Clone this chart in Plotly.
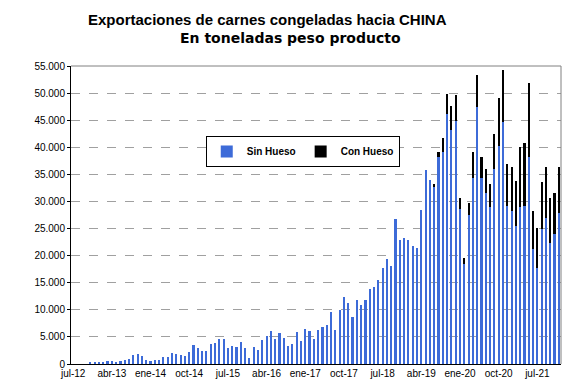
import plotly.graph_objects as go

# ---- data (toneladas peso producto), monthly from jul-12 to dic-21 ----
month_names = ["ene", "feb", "mar", "abr", "may", "jun", "jul", "ago", "sep", "oct", "nov", "dic"]
start_year, start_month = 2012, 7  # jul-12
n_months = 114

sin_hueso = [
    0, 0, 0, 0, 200, 250, 370, 430, 500, 500,
    370, 550, 700, 1000, 1700, 1800, 1550, 700, 600, 700,
    700, 1300, 1350, 2100, 1900, 1700, 1500, 2150, 3450, 2950,
    2350, 2350, 3600, 3800, 4700, 4700, 2960, 3300, 3150, 4100,
    2960, 1050, 3200, 2500, 4500, 5100, 6050, 4550, 5750, 4750,
    3400, 3650, 5900, 4250, 6550, 6000, 4550, 6350, 6800, 7150,
    9600, 6300, 10000, 12350, 11300, 8750, 11900, 10800, 11800, 13900,
    14200, 15550, 17800, 19300, 18000, 26850, 22950, 23300, 22950, 21800,
    21350, 28450, 35850, 34000, 32800, 38150, 39200, 46200, 43100, 44900,
    28600, 18400, 27500, 34300, 47500, 34400, 31500, 29000, 35900, 40300,
    44750, 29200, 28300, 25500, 28900, 29100, 38150, 21200, 17800, 25000,
    27000, 22400, 24000, 27800,
]

con_hueso = [0] * 84 + [
    350, 1050, 2500, 3700, 4600, 4800, 2100, 1200, 2300, 4800,
    5800, 3800, 4500, 4200, 6600, 8800, 9450, 7800, 8000, 8300,
    11100, 11700, 13800, 7000, 7300, 8600, 9400, 8300, 7600, 8500,
]

tick_labels = ["jul-12", "abr-13", "ene-14", "oct-14", "jul-15", "abr-16", "ene-17",
               "oct-17", "jul-18", "abr-19", "ene-20", "oct-20", "jul-21"]

y_ticks = list(range(0, 55001, 5000))

title_text = "Exportaciones de carnes congeladas hacia CHINA"
subtitle_text = "En toneladas peso producto"

# category labels for each month
categories = []
y, m = start_year, start_month
for _ in range(n_months):
    categories.append(f"{month_names[m - 1]}-{str(y)[2:]}")
    m += 1
    if m > 12:
        m = 1
        y += 1

FONT = "Liberation Sans, Arial, sans-serif"
BLUE = "#3d6bd8"

fig = go.Figure()
fig.add_trace(go.Bar(x=categories, y=sin_hueso, name="<b>Sin Hueso</b>",
                     marker=dict(color=BLUE, line=dict(width=0))))
fig.add_trace(go.Bar(x=categories, y=con_hueso, name="<b>Con Hueso</b>",
                     marker=dict(color="#000000", line=dict(width=0))))

fig.update_layout(
    barmode="stack",
    bargap=0.5,
    width=579, height=382,
    margin=dict(l=63, r=26, t=58, b=26),
    paper_bgcolor="white",
    plot_bgcolor="white",
    separators=",.",
    font=dict(family=FONT, size=10, color="black"),
    showlegend=True,
    legend=dict(
        orientation="h",
        x=0.275, y=0.765, xanchor="left", yanchor="top",
        bgcolor="white", bordercolor="black", borderwidth=1,
        font=dict(family=FONT, size=10, color="black"),
        itemwidth=30,
        traceorder="normal",
    ),
    xaxis=dict(
        type="category",
        categoryorder="array", categoryarray=categories,
        tickmode="array", tickvals=tick_labels, ticktext=tick_labels,
        showgrid=False,
        showline=True, linecolor="black", linewidth=1,
        mirror=False,
        ticks="", tickfont=dict(family=FONT, size=10),
        range=[-0.5, n_months - 0.5],
    ),
    yaxis=dict(
        range=[0, 55000],
        tickmode="array", tickvals=y_ticks,
        tickformat=",d",
        showgrid=True, gridcolor="#a0a0a0", griddash="dash", gridwidth=1,
        showline=True, linecolor="black", linewidth=1,
        ticks="outside", ticklen=3, tickcolor="black",
        tickfont=dict(family=FONT, size=10),
        zeroline=False,
    ),
    annotations=[
        dict(text=f"<b>{title_text}</b>", xref="paper", yref="paper",
             x=0.402, y=1, yshift=47, xanchor="center", yanchor="middle",
             showarrow=False, font=dict(family=FONT, size=15, color="black")),
        dict(text=f"<b>{subtitle_text}</b>", xref="paper", yref="paper",
             x=0.447, y=1, yshift=28, xanchor="center", yanchor="middle",
             showarrow=False, font=dict(family="DejaVu Sans, sans-serif", size=14, color="black")),
    ],
)

# gray frame on top and right of plot area
fig.add_shape(type="line", xref="paper", yref="paper", x0=0, x1=1, y0=1, y1=1,
              line=dict(color="#808080", width=1))
fig.add_shape(type="line", xref="paper", yref="paper", x0=1, x1=1, y0=0, y1=1,
              line=dict(color="#808080", width=1))

fig.write_html("out.html")
